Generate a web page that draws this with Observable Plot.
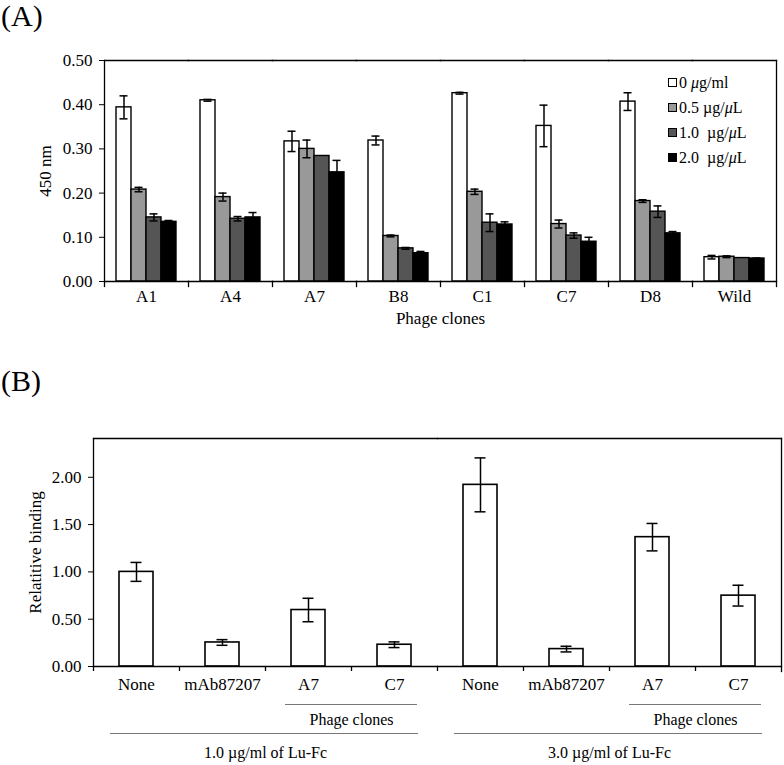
<!DOCTYPE html>
<html>
<head>
<meta charset="utf-8">
<script src="https://cdn.jsdelivr.net/npm/d3@7"></script>
<script src="https://cdn.jsdelivr.net/npm/@observablehq/plot@0.6"></script>
<style>
  html, body { margin: 0; padding: 0; background: white; }
  #wrap { position: relative; width: 784px; height: 765px; font-family: "Liberation Serif", "Times New Roman", serif; color: black; }
  .panel { position: absolute; left: 0; z-index: 1; }
  .tag { position: absolute; left: 1px; font-size: 30px; line-height: 32px; z-index: 3; }
  #legend { position: absolute; left: 668px; top: 70px; font-size: 16px; z-index: 3; }
  #legend .row { height: 25px; display: flex; align-items: center; white-space: pre; }
  #legend .sw { width: 7px; height: 7px; border: 1px solid black; margin-right: 2px; box-sizing: content-box; }
</style>
</head>
<body>
<div id="wrap">
  <div id="panelA" class="panel" style="top:0px"></div>
  <div id="panelB" class="panel" style="top:400px"></div>
  <div class="tag" style="top:0px">(A)</div>
  <div class="tag" style="top:365px">(B)</div>
  <div id="legend"></div>
</div>
<script>
// ---------- Panel A data ----------
const clones = ["A1", "A4", "A7", "B8", "C1", "C7", "D8", "Wild"];
const concLabels = ["0 μg/ml", "0.5 µg/μL", "1.0  µg/μL", "2.0  µg/μL"];
const concColors = ["#ffffff", "#999999", "#555555", "#000000"];
const conc0  = [0.394, 0.410, 0.317, 0.319, 0.426, 0.352, 0.407, 0.055];
const err0   = [0.026, 0.002, 0.023, 0.010, 0.002, 0.047, 0.020, 0.004];
const conc05 = [0.208, 0.191, 0.300, 0.103, 0.203, 0.130, 0.182, 0.056];
const err05  = [0.005, 0.009, 0.020, 0.002, 0.006, 0.009, 0.003, 0.002];
const conc10 = [0.145, 0.142, 0.284, 0.075, 0.133, 0.104, 0.158, 0.053];
const err10  = [0.008, 0.005, 0.000, 0.002, 0.020, 0.006, 0.013, 0.000];
const conc20 = [0.135, 0.145, 0.247, 0.064, 0.129, 0.090, 0.109, 0.052];
const err20  = [0.003, 0.011, 0.027, 0.004, 0.006, 0.010, 0.004, 0.001];
const yTicksA = [0, 0.1, 0.2, 0.3, 0.4, 0.5];

// ---------- Panel B data ----------
const bGroups = ["1.0 µg/ml of Lu-Fc", "3.0 µg/ml of Lu-Fc"];
const bTreatments = ["None", "mAb87207", "A7", "C7"];
const bValues1 = [1.00, 0.254, 0.597, 0.230];
const bErrors1 = [0.10, 0.030, 0.124, 0.030];
const bValues2 = [1.92, 0.184, 1.367, 0.749];
const bErrors2 = [0.285, 0.030, 0.145, 0.110];
const bSubLabel = "Phage clones";
const bSubStart = "A7";
const bSubEnd = "C7";
const yTicksB = [0, 0.5, 1.0, 1.5, 2.0];

// ---------- build tables ----------
const seriesA = [[conc0, err0], [conc05, err05], [conc10, err10], [conc20, err20]];
const dataA = [];
seriesA.forEach(([vals, errs], j) => {
  clones.forEach((c, i) => dataA.push({clone: c, conc: concLabels[j], value: vals[i], err: errs[i]}));
});
const dataB = [];
[[bValues1, bErrors1], [bValues2, bErrors2]].forEach(([vals, errs], g) => {
  bTreatments.forEach((t, i) => dataB.push({group: bGroups[g], treat: t, value: vals[i], err: errs[i]}));
});

const font = '"Liberation Serif", "Times New Roman", serif';

// ---------- Panel A ----------
const WA = 784, HA = 345, mtA = 60, mbA = 64, mlA = 102, mrA = 7;
const plotHA = HA - mtA - mbA;
const errA = dataA.filter(d => d.err > 0);
const chartA = Plot.plot({
  width: WA, height: HA,
  marginTop: mtA, marginBottom: mbA, marginLeft: mlA, marginRight: mrA,
  style: {fontFamily: font, fontSize: "17px", background: "transparent", color: "black", overflow: "visible"},
  fx: {domain: clones, padding: 0},
  x: {domain: concLabels, paddingInner: 0, paddingOuter: 0.72, axis: null},
  y: {domain: [0, 0.5]},
  color: {domain: concLabels, range: concColors},
  marks: [
    Plot.barY(dataA, {fx: "clone", x: "conc", y: "value", fill: "conc", stroke: "black", strokeWidth: 1.4}),
    Plot.ruleX(errA, {fx: "clone", x: "conc", y1: d => d.value - d.err, y2: d => d.value + d.err, stroke: "black", strokeWidth: 1.5}),
    Plot.tickY(errA, {fx: "clone", x: "conc", y: d => d.value + d.err, stroke: "black", strokeWidth: 1.5, insetLeft: 3.5, insetRight: 3.5}),
    Plot.tickY(errA, {fx: "clone", x: "conc", y: d => d.value - d.err, stroke: "black", strokeWidth: 1.5, insetLeft: 3.5, insetRight: 3.5}),
    Plot.frame({anchor: "top", stroke: "black", strokeWidth: 1.3}),
    Plot.frame({anchor: "bottom", stroke: "black", strokeWidth: 1.3}),
    Plot.frame({anchor: "left", facetAnchor: "left", stroke: "black", strokeWidth: 1.3}),
    Plot.frame({anchor: "right", facetAnchor: "right", insetBottom: -5, stroke: "black", strokeWidth: 1.3}),
    Plot.frame({anchor: "left", insetTop: plotHA, insetBottom: -5, stroke: "black", strokeWidth: 1.3}),
    Plot.axisY({ticks: yTicksA, tickFormat: ".2f", tickSize: 5, tickPadding: 7, label: "450 nm", labelAnchor: "center", labelArrow: "none", labelOffset: 66, fontSize: 17}),
    Plot.axisFx({anchor: "bottom", tickSize: 0, tickPadding: 8, label: "Phage clones", labelAnchor: "center", labelArrow: "none", labelOffset: 42, fontSize: 17})
  ]
});
document.getElementById("panelA").appendChild(chartA);

// ---------- Panel B ----------
const WB = 784, HB = 365, mtB = 38, mbB = 99, mlB = 93, mrB = 3;
const plotHB = HB - mtB - mbB;
const bw = (WB - mlB - mrB) / (bGroups.length * bTreatments.length);
const chartB = Plot.plot({
  width: WB, height: HB,
  marginTop: mtB, marginBottom: mbB, marginLeft: mlB, marginRight: mrB,
  style: {fontFamily: font, fontSize: "17px", background: "transparent", color: "black", overflow: "visible"},
  fx: {domain: bGroups, padding: 0},
  x: {domain: bTreatments, padding: 0},
  y: {domain: [0, 2.41]},
  marks: [
    Plot.barY(dataB, {fx: "group", x: "treat", y: "value", fill: "white", stroke: "black", strokeWidth: 1.6, insetLeft: 26, insetRight: 26}),
    Plot.ruleX(dataB, {fx: "group", x: "treat", y1: d => d.value - d.err, y2: d => d.value + d.err, stroke: "black", strokeWidth: 1.5}),
    Plot.tickY(dataB, {fx: "group", x: "treat", y: d => d.value + d.err, stroke: "black", strokeWidth: 1.5, insetLeft: 37.5, insetRight: 37.5}),
    Plot.tickY(dataB, {fx: "group", x: "treat", y: d => d.value - d.err, stroke: "black", strokeWidth: 1.5, insetLeft: 37.5, insetRight: 37.5}),
    Plot.frame({anchor: "top", stroke: "black", strokeWidth: 1.3}),
    Plot.frame({anchor: "bottom", stroke: "black", strokeWidth: 1.3}),
    Plot.frame({anchor: "left", facetAnchor: "left", stroke: "black", strokeWidth: 1.3}),
    Plot.frame({anchor: "right", facetAnchor: "right", insetBottom: -5, stroke: "black", strokeWidth: 1.3}),
    Plot.ruleX(dataB, {fx: "group", x: "treat", dx: -bw / 2, insetTop: plotHB, insetBottom: -5, stroke: "black", strokeWidth: 1.3}),
    // grouping lines & labels
    Plot.ruleY(bGroups, {fx: d => d, x1: () => bSubStart, x2: () => bSubEnd, y: () => 0, dy: 38, insetLeft: 20, insetRight: 20, stroke: "#777", strokeWidth: 1}),
    Plot.text(bGroups, {fx: d => d, x: () => bSubEnd, y: () => 0, dx: -bw / 2, dy: 53, text: () => bSubLabel, fontSize: 16}),
    Plot.ruleY(bGroups, {fx: d => d, x1: () => bTreatments[0], x2: () => bTreatments[bTreatments.length - 1], y: () => 0, dy: 67, insetLeft: 17, insetRight: 19, stroke: "#777", strokeWidth: 1}),
    Plot.axisY({ticks: yTicksB, tickFormat: ".2f", tickSize: 5, tickPadding: 7, label: "Relatitive binding", labelAnchor: "center", labelArrow: "none", labelOffset: 65, fontSize: 17}),
    Plot.axisX({anchor: "bottom", tickSize: 0, tickPadding: 11, label: null, fontSize: 17}),
    Plot.axisFx({anchor: "bottom", tickSize: 0, tickPadding: 80, label: null, fontSize: 16})
  ]
});
document.getElementById("panelB").appendChild(chartB);

// ---------- Legend ----------
const legend = document.getElementById("legend");
concLabels.forEach((lab, j) => {
  const row = document.createElement("div");
  row.className = "row";
  const sw = document.createElement("span");
  sw.className = "sw";
  sw.style.background = concColors[j];
  const t = document.createElement("span");
  // italic Greek mu where the original uses the symbol font
  t.innerHTML = lab.replace(/μ/g, "<i>μ</i>");
  row.appendChild(sw);
  row.appendChild(t);
  legend.appendChild(row);
});
</script>
</body>
</html>
